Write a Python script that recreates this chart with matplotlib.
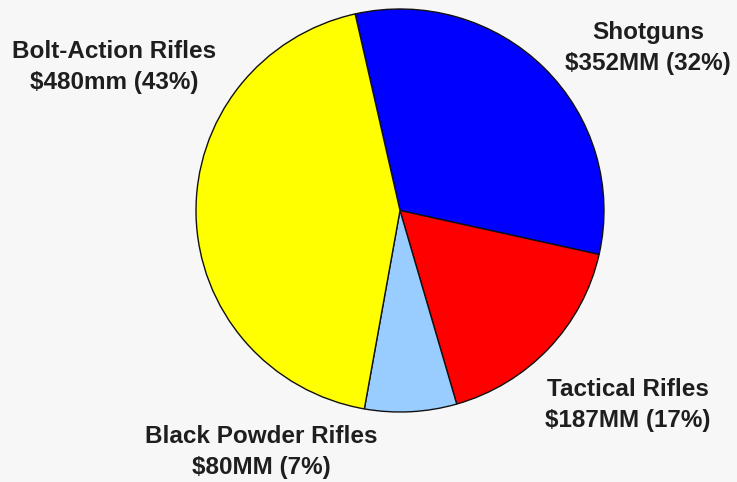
import matplotlib.pyplot as plt

# market segments, $ millions
segments = ['Shotguns', 'Tactical Rifles', 'Black Powder Rifles', 'Bolt-Action Rifles']
sales = [352, 187, 80, 480]
value_labels = ['$352MM (32%)', '$187MM (17%)', '$80MM (7%)', '$480mm (43%)']
colors = ['#0000ff', '#ff0000', '#99ccff', '#ffff00']
# label centres in pixels (x, y from top)
label_pos = [(648, 48), (628, 405), (261, 452), (114, 67)]

W, H = 737, 482
fig = plt.figure(figsize=(W / 100, H / 100), dpi=100, facecolor='#f7f7f7')
ax = fig.add_axes([196 / W, (H - 412) / H, 408 / W, 403 / H])
ax.set_facecolor('#f7f7f7')

ax.pie(sales, colors=colors, startangle=102.7, counterclock=False,
       wedgeprops=dict(edgecolor='#111111', linewidth=1.0))
ax.set_aspect('auto')
ax.set_xlim(-1.0, 1.0)
ax.set_ylim(-1.0, 1.0)
ax.axis('off')

for name, val, (px, py) in zip(segments, value_labels, label_pos):
    fig.text(px / W, 1 - py / H, name + '\n' + val, ha='center', va='center',
             fontsize=17.5, fontweight='bold', family='Liberation Sans',
             color='#1e1e1e', linespacing=1.45)

fig.savefig('out.png', dpi=100, facecolor=fig.get_facecolor())
